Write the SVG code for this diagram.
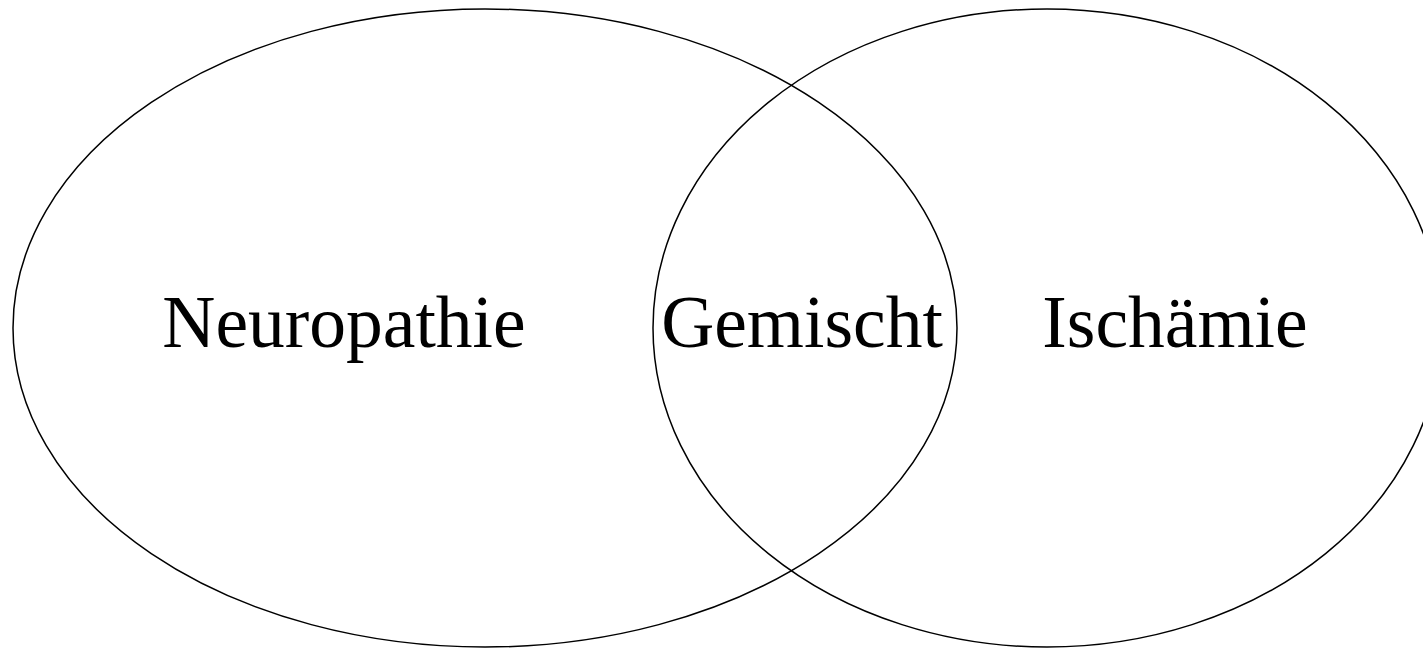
<svg xmlns="http://www.w3.org/2000/svg" width="1423" height="650" viewBox="0 0 1423 650">
<style>
.set{fill:none;stroke:#000;stroke-width:1.5}
.lbl{font-family:"Liberation Serif","Times New Roman",serif;font-size:73.5px;fill:#000;text-anchor:middle}
</style>
<rect width="1423" height="650" fill="#fff"/>
<g id="neuropathie">
<ellipse class="set" cx="485" cy="328" rx="472" ry="319"/>
<text class="lbl" x="344" y="347">Neuropathie</text>
</g>
<g id="ischaemie">
<ellipse class="set" cx="1047" cy="328" rx="394" ry="319"/>
<text class="lbl" x="1175" y="347">Ischämie</text>
</g>
<g id="gemischt">
<text class="lbl" x="802" y="347">Gemischt</text>
</g>
<g id="connectors"></g>
</svg>
